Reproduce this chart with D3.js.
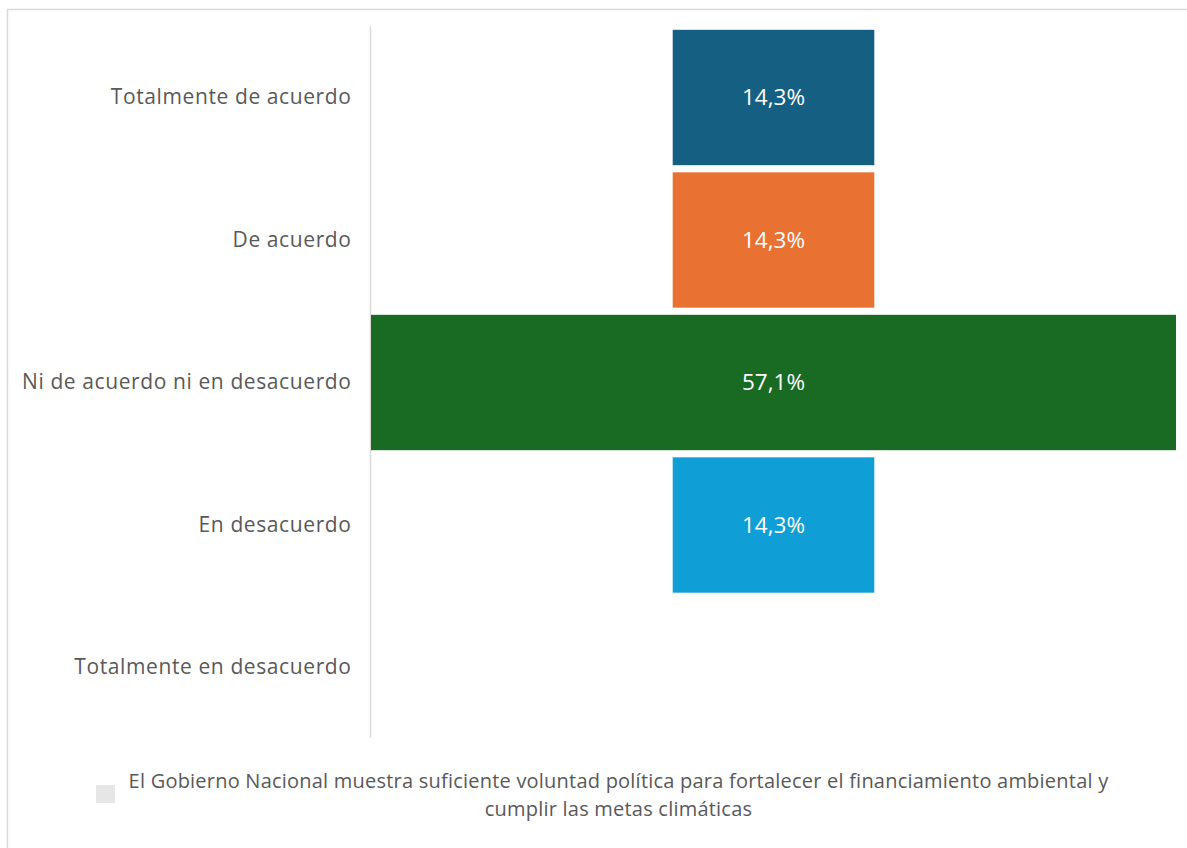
<!DOCTYPE html>
<html>
<head>
<meta charset="utf-8">
<script src="https://cdn.jsdelivr.net/npm/d3@7"></script>
<style>
  html, body { margin: 0; padding: 0; background: #fff; }
  svg { display: block; font-family: "Open Sans", sans-serif; }
</style>
</head>
<body>
<svg id="chart" width="1187" height="848"></svg>
<script>
// Response categories, top to bottom
const categories = [
  "Totalmente de acuerdo",
  "De acuerdo",
  "Ni de acuerdo ni en desacuerdo",
  "En desacuerdo",
  "Totalmente en desacuerdo"
];
// Share of responses (%)
const values = [14.3, 14.3, 57.1, 14.3, 0];
const colors = ["#156082", "#E97132", "#196B24", "#0F9ED5", "#A02B93"];
const legendLines = [
  "El Gobierno Nacional muestra suficiente voluntad política para fortalecer el financiamiento ambiental y",
  "cumplir las metas climáticas"
];

const svg = d3.select("#chart");

// Chart frame
svg.append("rect")
  .attr("x", 7.5).attr("y", 9.5)
  .attr("width", 1300).attr("height", 1000)
  .attr("fill", "#fff").attr("stroke", "#D9D9D9").attr("stroke-width", 1.5);

const plot = { left: 371, right: 1176, top: 26.25, bottom: 738.75 };
const center = (plot.left + plot.right) / 2;

const y = d3.scaleBand()
  .domain(categories)
  .range([plot.top, plot.bottom])
  .paddingInner(0.05)
  .paddingOuter(0.025);

// Bar width scale: widest bar spans the whole plot width, bars centred
const w = d3.scaleLinear()
  .domain([0, d3.max(values)])
  .range([0, plot.right - plot.left]);

const rows = categories.map((c, i) => ({ cat: c, value: values[i], color: colors[i] }));

// Category axis
const axis = d3.axisLeft(y).tickSize(0).tickPadding(19);
const gAxis = svg.append("g")
  .attr("transform", `translate(${plot.left - 0.5},0)`)
  .call(axis);
gAxis.select(".domain")
  .attr("stroke", "#D9D9D9").attr("stroke-width", 1.5)
  .attr("d", `M0,${plot.top}V${plot.bottom - 1}`);
gAxis.selectAll(".tick text")
  .attr("fill", "#595959")
  .attr("dy", "0.33em")
  .style("font-size", "21px")
  .style("letter-spacing", "0.6px")
  .style("font-family", "'Open Sans', sans-serif");

// Bars
svg.append("g").selectAll("rect")
  .data(rows.filter(d => d.value > 0))
  .join("rect")
  .attr("x", d => center - w(d.value) / 2)
  .attr("y", d => y(d.cat))
  .attr("width", d => w(d.value))
  .attr("height", y.bandwidth())
  .attr("fill", d => d.color);

// Value labels
const fmt = v => d3.format(".1f")(v).replace(".", ",") + "%";
svg.append("g").selectAll("text")
  .data(rows.filter(d => d.value > 0))
  .join("text")
  .attr("x", center)
  .attr("y", d => y(d.cat) + y.bandwidth() / 2)
  .attr("dy", "0.35em")
  .attr("text-anchor", "middle")
  .attr("fill", "#fff")
  .style("font-size", "22.5px")
  .text(d => fmt(d.value));

// Legend
svg.append("rect")
  .attr("x", 96).attr("y", 785)
  .attr("width", 19).attr("height", 18)
  .attr("fill", "#E6E6E6");
svg.append("g").selectAll("text")
  .data(legendLines)
  .join("text")
  .attr("x", 618.5)
  .attr("y", (d, i) => 788 + i * 28)
  .attr("text-anchor", "middle")
  .attr("fill", "#595959")
  .style("font-size", "20px")
  .style("letter-spacing", "0.22px")
  .text(d => d);
</script>
</body>
</html>
